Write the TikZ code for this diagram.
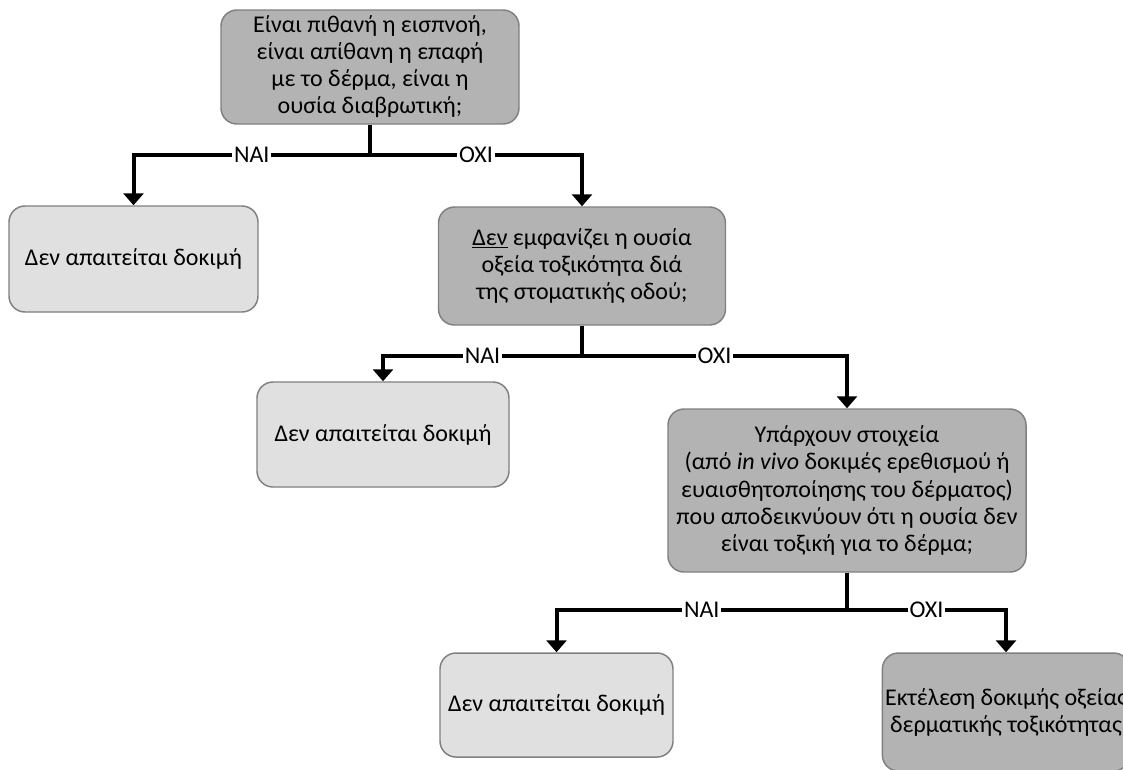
\documentclass[tikz,border=0pt]{standalone}
\usepackage{fontspec}
\setmainfont{Carlito}
\usetikzlibrary{arrows.meta}
\definecolor{qfill}{HTML}{B3B3B3}
\definecolor{afill}{HTML}{E0E0E0}
\definecolor{boxline}{HTML}{808080}

\begin{document}
\begin{tikzpicture}[x=0.75pt,y=-0.75pt,font=\fontsize{18}{20.3}\selectfont,
  qbox/.style={draw=boxline,fill=qfill,line width=1.1pt,rounded corners=12pt,
               align=center,inner sep=2pt},
  abox/.style={qbox,fill=afill},
  ln/.style={line width=3pt,black},
  e/.style={ln,-{Triangle[width=15pt,length=9pt]}},
  lbl/.style={fill=white,inner sep=1.5pt,pos=0.25}]
  \useasboundingbox (0,0) rectangle (1123,769);
  % questions
  \node[qbox,minimum width=223.5pt,minimum height=85.5pt] (q1) at (370,67)
    {Είναι πιθανή η εισπνοή,\\είναι απίθανη η επαφή\\με το δέρμα, είναι η\\ουσία διαβρωτική;};
  \node[qbox,minimum width=215.25pt,minimum height=88.5pt] (q2) at (582,266)
    {\underline{Δεν} εμφανίζει η ουσία\\οξεία τοξικότητα διά\\της στοματικής οδού;};
  \node[qbox,minimum width=268.5pt,minimum height=122.25pt] (q3) at (847,490.5)
    {Υπάρχουν στοιχεία\\(από \textit{in vivo} δοκιμές ερεθισμού ή\\ευαισθητοποίησης του δέρματος)\\που αποδεικνύουν ότι η ουσία δεν\\είναι τοξική για το δέρμα;};
  \node[qbox,minimum width=183.75pt,minimum height=88.5pt] (t4) at (1006,712)
    {Εκτέλεση δοκιμής οξείας\\δερματικής τοξικότητας};
  % answers
  \node[abox,minimum width=186.75pt,minimum height=79.5pt] (a1) at (133.5,259)
    {Δεν απαιτείται δοκιμή};
  \node[abox,minimum width=189pt,minimum height=78.75pt] (a2) at (383,434.5)
    {Δεν απαιτείται δοκιμή};
  \node[abox,minimum width=174.75pt,minimum height=78pt] (a3) at (556.5,705)
    {Δεν απαιτείται δοκιμή};
  % branches
  \coordinate (j1) at (q1.south |- 0,155);
  \coordinate (j2) at (q2.south |- 0,356);
  \coordinate (j3) at (q3.south |- 0,610);
  \draw[ln] (q1.south) -- (j1);
  \draw[e] (j1) -| node[lbl]{ΝΑΙ} (a1.north);
  \draw[e] (j1) -| node[lbl]{ΟΧΙ} (q2.north);
  \draw[ln] (q2.south) -- (j2);
  \draw[e] (j2) -| node[lbl]{ΝΑΙ} (a2.north);
  \draw[e] (j2) -| node[lbl]{ΟΧΙ} (q3.north);
  \draw[ln] (q3.south) -- (j3);
  \draw[e] (j3) -| node[lbl]{ΝΑΙ} (a3.north);
  \draw[e] (j3) -| node[lbl]{ΟΧΙ} (t4.north);
\end{tikzpicture}
\end{document}
